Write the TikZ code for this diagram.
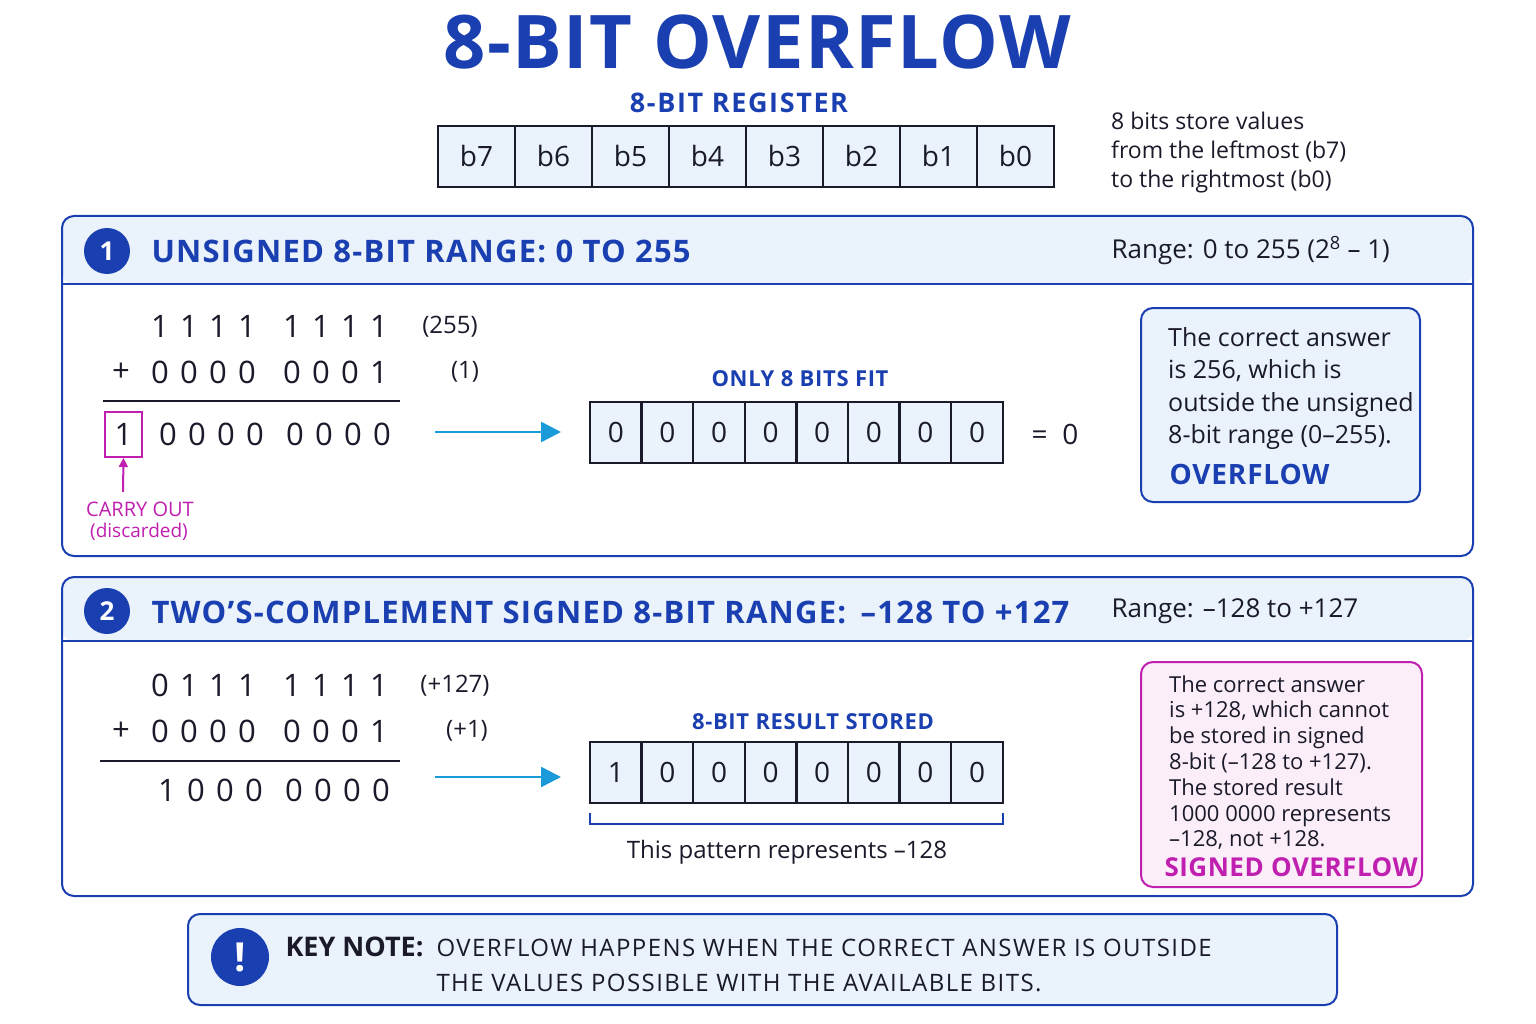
\documentclass[tikz,border=0pt]{standalone}
\usepackage{fontspec}
\setmainfont{Open Sans}
\usetikzlibrary{decorations.pathreplacing,arrows.meta}
\definecolor{dblue}{HTML}{1A3FB0}
\definecolor{lblue}{HTML}{EAF2FC}
\definecolor{mag}{HTML}{C020B0}
\definecolor{pinkf}{HTML}{FBEEF9}
\definecolor{ablue}{HTML}{1A9AD8}
\definecolor{txt}{HTML}{1A1A2A}
\newcommand{\fs}[1]{\fontsize{#1}{#1}\selectfont}
\newcommand{\ls}[1]{\addfontfeature{LetterSpace=#1}}
\begin{document}
\begin{tikzpicture}[x=1pt,y=-1pt,
  cell/.style={draw=txt,line width=2.5pt,fill=lblue,minimum height=61pt,inner sep=0pt,font=\fs{28}\color{txt}},
  panel/.style={draw=dblue,line width=2pt,rounded corners=12pt},
  numc/.style={circle,fill=dblue,text=white,inner sep=0pt,font=\bfseries\fs{26}},
  head/.style={anchor=west,text=dblue,font=\bfseries\fs{31}\ls{4}},
  rng/.style={anchor=west,text=txt,font=\fs{26}},
  dig/.style={text=txt,font=\fs{31}},
  note/.style={text=txt,font=\fs{23}},
  ln/.style={anchor=base west,inner sep=0pt,text=txt},
  arr/.style={-{Triangle[length=20pt,width=20pt]},ablue,line width=2.5pt}]
\useasboundingbox (0,0) rectangle (1536,1024);
\fill[white] (0,0) rectangle (1536,1024);
\node[text=dblue,font=\bfseries\fs{74}\ls{2}] (title) at (757,42) {8-BIT OVERFLOW};
\node[text=dblue,font=\bfseries\fs{27}\ls{6}] (reglab) at (739,103) {8-BIT REGISTER};
\foreach \b [count=\i from 0] in {b7,b6,b5,b4,b3,b2,b1,b0}
  \node[cell,minimum width=77pt] (r\i) at (476.5+\i*77,156.5) {\b};
\node[ln,font=\fs{23}] (rn1) at (1111,130) {8 bits store values};
\node[ln,font=\fs{23}] (rn2) at (1111,159) {from the leftmost (b7)};
\node[ln,font=\fs{23}] (rn3) at (1111,188) {to the rightmost (b0)};
% panel 1
\fill[lblue,rounded corners=12pt] (62,216) rectangle (1473,284);
\draw[panel] (62,216) rectangle (1473,556);
\draw[dblue,line width=2pt] (62,284) -- (1473,284);
\node[numc,minimum size=46pt] (c1) at (107,251) {1};
\node[head] (h1) at (148,251) {UNSIGNED 8-BIT RANGE: 0 TO 255};
\node[rng] (rg1) at (1108,251) {Range: 0 to 255 (2\textsuperscript{8} – 1)};
\foreach \d [count=\i from 0] in {1,1,1,1} {\node[dig] at (160+\i*29,326) {\d}; \node[dig] at (292+\i*29,326) {\d};}
\node[dig] at (121,372) {+};
\foreach \d [count=\i from 0] in {0,0,0,0} \node[dig] at (160+\i*29,372) {\d};
\foreach \d [count=\i from 0] in {0,0,0,1} \node[dig] at (292+\i*29,372) {\d};
\node[note,font=\fs{24}] (p255) at (450,327) {(255)};
\node[note,font=\fs{24}] (p1) at (465,372) {(1)};
\draw[txt,line width=2pt] (103,401) -- (400,401);
\node[draw=mag,line width=2pt,minimum width=37pt,minimum height=45pt,inner sep=0pt,dig] (carry) at (123.5,434.5) {1};
\foreach \i in {0,...,3} {\node[dig] at (168+\i*29,434) {0}; \node[dig] at (295+\i*29,434) {0};}
\coordinate (cb) at (123,492);
\draw[-{Triangle[length=9pt,width=9pt]},mag,line width=2pt] (cb) -- (carry.south);
\node[text=mag,font=\fs{20}] (co) at (140,509) {CARRY OUT};
\node[text=mag,font=\fs{19}] (disc) at (139,532) {(discarded)};
\coordinate (a1s) at (435,432);
\draw[arr] (a1s) -- (561,432);
\node[text=dblue,font=\bfseries\fs{22}\ls{3}] (fit) at (800,379) {ONLY 8 BITS FIT};
\foreach \i in {0,...,7} \node[cell,minimum width=51.6pt] (s\i) at (615.8+\i*51.6,432.5) {0};
\node[dig,font=\fs{28}] (eq) at (1055,434) {=\ \ 0};
\draw[panel,fill=lblue] (1141,308) rectangle (1420,502);
\node[ln,font=\fs{25}] (a11) at (1168,346) {The correct answer};
\node[ln,font=\fs{25}] (a12) at (1168,378) {is 256, which is};
\node[ln,font=\fs{25}] (a13) at (1168,411) {outside the unsigned};
\node[ln,font=\fs{25}] (a14) at (1168,443) {8-bit range (0–255).};
\node[head,font=\bfseries\fs{28}\ls{3}] (ov1) at (1166,474) {OVERFLOW};
% panel 2
\fill[lblue,rounded corners=12pt] (62,577) rectangle (1473,641);
\draw[panel] (62,577) rectangle (1473,896);
\draw[dblue,line width=2pt] (62,641) -- (1473,641);
\node[numc,minimum size=46pt] (c2) at (107,611) {2};
\node[head] (h2) at (148,612) {TWO’S-COMPLEMENT SIGNED 8-BIT RANGE: \,–128 TO +127};
\node[rng] (rg2) at (1108,611) {Range: –128 to +127};
\foreach \d [count=\i from 0] in {0,1,1,1} \node[dig] at (160+\i*29,685) {\d};
\foreach \i in {0,...,3} \node[dig] at (292+\i*29,685) {1};
\node[dig] at (121,731) {+};
\foreach \i in {0,...,3} \node[dig] at (160+\i*29,731) {0};
\foreach \d [count=\i from 0] in {0,0,0,1} \node[dig] at (292+\i*29,731) {\d};
\node[note,font=\fs{24}] (p127) at (455,686) {(+127)};
\node[note,font=\fs{24}] (pp1) at (467,731) {(+1)};
\draw[txt,line width=2pt] (100,761) -- (400,761);
\foreach \d [count=\i from 0] in {1,0,0,0} \node[dig] at (167+\i*29,790) {\d};
\foreach \i in {0,...,3} \node[dig] at (294+\i*29,790) {0};
\coordinate (a2s) at (435,777);
\draw[arr] (a2s) -- (561,777);
\node[text=dblue,font=\bfseries\fs{22}\ls{3}] (stored) at (813,722) {8-BIT RESULT STORED};
\foreach \b [count=\i from 0] in {1,0,0,0,0,0,0,0} \node[cell,minimum width=51.6pt] (t\i) at (615.8+\i*51.6,772.5) {\b};
\draw[dblue,line width=1.5pt] (590,813) -- (590,824) -- (1003,824) -- (1003,813);
\node[note,font=\fs{24}] (patt) at (787,852) {This pattern represents –128};
\draw[draw=mag,line width=2pt,rounded corners=12pt,fill=pinkf] (1141,662) rectangle (1422,887);
\foreach \t [count=\i from 0] in {The correct answer,{is +128, which cannot},be stored in signed,{8-bit (–128 to +127).},The stored result,1000 0000 represents,{–128, not +128.}}
  \node[ln,font=\fs{22}] (b\i) at (1169,692+\i*25.8) {\t};
\node[anchor=west,text=mag,font=\bfseries\fs{26}\ls{2}] (sov) at (1161,867) {SIGNED OVERFLOW};
% key note
\draw[panel,fill=lblue] (188,914) rectangle (1337,1005);
\node[numc,minimum size=58pt,font=\bfseries\fs{40}] (ex) at (240,957) {!};
\node[anchor=west,text=txt,font=\bfseries\fs{27}] (kn) at (282,947) {KEY NOTE:};
\node[anchor=west,text=txt,font=\fs{24}\ls{6}] (kn1) at (433,948) {OVERFLOW HAPPENS WHEN THE CORRECT ANSWER IS OUTSIDE};
\node[anchor=west,text=txt,font=\fs{24}\ls{6}] (kn2) at (433,983) {THE VALUES POSSIBLE WITH THE AVAILABLE BITS.};
\end{tikzpicture}
\end{document}
